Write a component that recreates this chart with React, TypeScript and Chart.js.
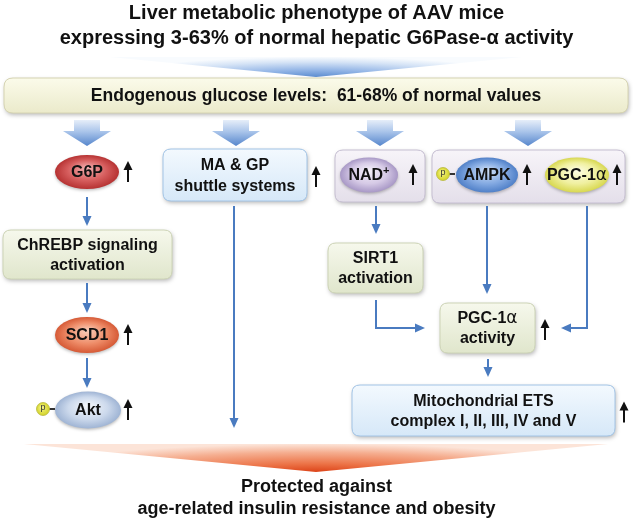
import React, { useEffect, useRef } from "react";
import { Chart, registerables } from "chart.js";

Chart.register(...registerables);

// ---- text content (data) ----
const titleLines = ["Liver metabolic phenotype of AAV mice", "expressing 3-63% of normal hepatic G6Pase-\u03b1 activity"];
const glucoseLabel = "Endogenous glucose levels:  61-68% of normal values";
const bottomLines = ["Protected against", "age-related insulin resistance and obesity"];
const ellipseLabels = ["G6P", "SCD1", "Akt", "NAD", "AMPK", "PGC-1"];
const boxLabels = [
  ["MA & GP", "shuttle systems"],
  ["ChREBP signaling", "activation"],
  ["SIRT1", "activation"],
  ["PGC-1", "activity"],
  ["Mitochondrial ETS", "complex I, II, III, IV and V"],
];
const upRegulated = [true, true, true, true, true, true, true, true, true];

// ---- layout (positions / styles) ----
const W = 633, H = 520;
const FONT = "'Liberation Sans', Arial, sans-serif";
const ELLIPSES = [
  { cx: 87, cy: 172, rx: 32, ry: 17, c: ["#f4b2b2", "#d65e5e", "#b63232"], up: 128, alpha: false },
  { cx: 87, cy: 335, rx: 32, ry: 18, c: ["#fad0bc", "#ee8c68", "#d65a36"], up: 128, alpha: false },
  { cx: 88, cy: 410, rx: 33, ry: 18.5, c: ["#f4f7fb", "#ccd9ec", "#9fb4d4"], up: 128, alpha: false, p: 43 },
  { cx: 369, cy: 175, rx: 29, ry: 17.5, c: ["#f6f1fa", "#d6cae6", "#a898c6"], up: 413, sup: true },
  { cx: 487, cy: 175, rx: 31, ry: 17.5, c: ["#d2e2f8", "#84aae2", "#5080c8"], up: 527, p: 443 },
  { cx: 577, cy: 175, rx: 32, ry: 17.5, c: ["#fdfde6", "#f0f0a0", "#d8d850"], up: 617, alpha: true },
];
const BOXES = [
  { x0: 163, y0: 149, x1: 307, y1: 201, style: "blue", l: [166, 187], up: 316 },
  { x0: 3, y0: 230, x1: 172, y1: 279, style: "green", l: [246, 266] },
  { x0: 328, y0: 243, x1: 423, y1: 293, style: "green", l: [259, 279] },
  { x0: 440, y0: 303, x1: 535, y1: 353, style: "green", l: [319, 339], up: 545, alpha: true },
  { x0: 352, y0: 385, x1: 615, y1: 436, style: "blue", l: [402, 422], up: 624 },
];
const GROUPS = [
  { x0: 335, y0: 150, x1: 425, y1: 202 },
  { x0: 432, y0: 150, x1: 625, y1: 203 },
];
const BIG_ARROWS = [87, 236, 380, 528];
const CONNECTORS = [
  [[87, 197], [87, 226]],
  [[87, 283], [87, 313]],
  [[87, 358], [87, 388]],
  [[234, 206], [234, 428]],
  [[376, 206], [376, 234]],
  [[376, 300], [376, 328], [425, 328]],
  [[487, 206], [487, 294]],
  [[587, 206], [587, 328], [561, 328]],
  [[488, 359], [488, 377]],
];
const BOX_STYLES: Record<string, string[]> = {
  blue: ["#f3f9fe", "#d6e8f8", "#a2c4e6"],
  green: ["#f6f8ec", "#e0e6cc", "#cdd4b6"],
  gray: ["#f7f4f9", "#e4dfea", "#c6bfd2"],
  yellow: ["#fbfbea", "#ebeacb", "#d6d4b2"],
};

function roundRect(ctx: CanvasRenderingContext2D, x0: number, y0: number, x1: number, y1: number, r: number) {
  ctx.beginPath();
  ctx.moveTo(x0 + r, y0);
  ctx.lineTo(x1 - r, y0);
  ctx.quadraticCurveTo(x1, y0, x1, y0 + r);
  ctx.lineTo(x1, y1 - r);
  ctx.quadraticCurveTo(x1, y1, x1 - r, y1);
  ctx.lineTo(x0 + r, y1);
  ctx.quadraticCurveTo(x0, y1, x0, y1 - r);
  ctx.lineTo(x0, y0 + r);
  ctx.quadraticCurveTo(x0, y0, x0 + r, y0);
  ctx.closePath();
}

type Seg = { t: string; f: string; dy?: number };
function rich(ctx: CanvasRenderingContext2D, segs: Seg[], cx: number, cy: number, color = "#111") {
  let total = 0;
  const ws = segs.map((s) => { ctx.font = s.f; const w = ctx.measureText(s.t).width; total += w; return w; });
  let x = cx - total / 2;
  ctx.fillStyle = color;
  ctx.textAlign = "left";
  ctx.textBaseline = "middle";
  segs.forEach((s, i) => { ctx.font = s.f; ctx.fillText(s.t, x, cy + (s.dy || 0)); x += ws[i]; });
}

const diagramPlugin = {
  id: "diagram",
  afterDatasetsDraw(chart: any) {
    const ctx: CanvasRenderingContext2D = chart.ctx;
    const xs = chart.scales.x, ys = chart.scales.y;
    const X = (v: number) => xs.getPixelForValue(v);
    const Y = (v: number) => ys.getPixelForValue(v);
    const B16 = `bold 16px ${FONT}`;
    const ALPHA = `17px 'DejaVu Sans', ${FONT}`;
    ctx.save();

    ctx.fillStyle = "#fff";
    ctx.fillRect(0, 0, W, H);

    titleLines.forEach((t, i) => rich(ctx, [{ t, f: `bold 20px ${FONT}` }], X(316.5), Y(13 + i * 25)));

    const wedge = (tipX: number, tipY: number, topY: number, xL: number, xR: number, stops: [number, string][]) => {
      ctx.save();
      ctx.beginPath();
      ctx.moveTo(X(xL), Y(topY));
      ctx.lineTo(X(xR), Y(topY));
      ctx.lineTo(X(tipX), Y(tipY));
      ctx.closePath();
      ctx.clip();
      ctx.translate(X(tipX), Y(tipY));
      const h = Y(tipY) - Y(topY);
      const half = (X(xR) - X(xL)) / 2;
      ctx.scale(1, h / half);
      const g = ctx.createRadialGradient(0, 0, 0, 0, 0, half);
      stops.forEach(([o, c]) => g.addColorStop(o, c));
      ctx.fillStyle = g;
      ctx.fillRect(-half, -half, 2 * half, half);
      ctx.restore();
    };
    wedge(316, 77, 57, 110, 522, [[0, "#5b8cd0"], [0.35, "#93b5e6"], [0.75, "#d6e4f6"], [1, "#f8fbfe"]]);

    const box = (x0: number, y0: number, x1: number, y1: number, style: string, r = 8) => {
      const [c0, c1, st] = BOX_STYLES[style];
      ctx.save();
      ctx.shadowColor = "rgba(0,0,0,0.28)";
      ctx.shadowBlur = 4;
      ctx.shadowOffsetX = 1;
      ctx.shadowOffsetY = 2;
      roundRect(ctx, X(x0), Y(y0), X(x1), Y(y1), r);
      const g = ctx.createLinearGradient(0, Y(y0), 0, Y(y1));
      g.addColorStop(0, c0);
      g.addColorStop(1, c1);
      ctx.fillStyle = g;
      ctx.fill();
      ctx.restore();
      roundRect(ctx, X(x0), Y(y0), X(x1), Y(y1), r);
      ctx.strokeStyle = st;
      ctx.lineWidth = 1;
      ctx.stroke();
    };

    box(4, 78, 628, 113, "yellow", 9);
    rich(ctx, [{ t: glucoseLabel, f: `bold 17.5px ${FONT}` }], X(316), Y(96));

    BIG_ARROWS.forEach((ax) => {
      ctx.save();
      ctx.beginPath();
      ctx.moveTo(X(ax - 13), Y(120));
      ctx.lineTo(X(ax + 13), Y(120));
      ctx.lineTo(X(ax + 13), Y(131));
      ctx.lineTo(X(ax + 24), Y(131));
      ctx.lineTo(X(ax), Y(146));
      ctx.lineTo(X(ax - 24), Y(131));
      ctx.lineTo(X(ax - 13), Y(131));
      ctx.closePath();
      const g = ctx.createLinearGradient(0, Y(120), 0, Y(146));
      g.addColorStop(0, "#e6eef9");
      g.addColorStop(0.45, "#a9c4ea");
      g.addColorStop(1, "#5686cc");
      ctx.fillStyle = g;
      ctx.fill();
      ctx.restore();
    });

    GROUPS.forEach((g) => box(g.x0, g.y0, g.x1, g.y1, "gray", 8));

    const up = (x: number, cy: number) => {
      ctx.save();
      ctx.strokeStyle = "#111";
      ctx.fillStyle = "#111";
      ctx.lineWidth = 2;
      ctx.beginPath();
      ctx.moveTo(X(x), Y(cy + 10));
      ctx.lineTo(X(x), Y(cy - 3));
      ctx.stroke();
      ctx.beginPath();
      ctx.moveTo(X(x - 4.5), Y(cy - 2));
      ctx.lineTo(X(x + 4.5), Y(cy - 2));
      ctx.lineTo(X(x), Y(cy - 11));
      ctx.closePath();
      ctx.fill();
      ctx.restore();
    };

    const pCircle = (x: number, y: number) => {
      ctx.save();
      ctx.strokeStyle = "#333";
      ctx.lineWidth = 2;
      ctx.beginPath();
      ctx.moveTo(X(x + 5), Y(y));
      ctx.lineTo(X(x + 12), Y(y));
      ctx.stroke();
      const g = ctx.createRadialGradient(X(x - 1.5), Y(y - 2), 0, X(x), Y(y), 7);
      g.addColorStop(0, "#f8f890");
      g.addColorStop(1, "#d0d020");
      ctx.fillStyle = g;
      ctx.beginPath();
      ctx.arc(X(x), Y(y), 6.5, 0, Math.PI * 2);
      ctx.fill();
      ctx.strokeStyle = "#b8b840";
      ctx.lineWidth = 0.8;
      ctx.stroke();
      rich(ctx, [{ t: "p", f: `9px ${FONT}` }], X(x), Y(y - 1), "#333");
      ctx.restore();
    };

    ELLIPSES.forEach((e: any, i) => {
      ctx.save();
      ctx.shadowColor = "rgba(0,0,0,0.25)";
      ctx.shadowBlur = 3;
      ctx.shadowOffsetY = 1.5;
      ctx.translate(X(e.cx), Y(e.cy));
      ctx.scale(1, e.ry / e.rx);
      const g = ctx.createRadialGradient(0, -e.rx * 0.25, 0, 0, 0, e.rx);
      g.addColorStop(0, e.c[0]);
      g.addColorStop(0.6, e.c[1]);
      g.addColorStop(1, e.c[2]);
      ctx.fillStyle = g;
      ctx.beginPath();
      ctx.arc(0, 0, e.rx, 0, Math.PI * 2);
      ctx.fill();
      ctx.restore();
      const segs: Seg[] = [{ t: ellipseLabels[i], f: B16 }];
      if (e.sup) segs.push({ t: "+", f: `bold 11px ${FONT}`, dy: -5 });
      if (e.alpha) segs.push({ t: "\u03b1", f: ALPHA });
      rich(ctx, segs, X(e.cx), Y(e.cy + 1));
      if (e.p) pCircle(e.p, e.cy - 1);
      if (upRegulated[i]) up(e.up, e.cy);
    });

    BOXES.forEach((b, i) => {
      box(b.x0, b.y0, b.x1, b.y1, b.style, 8);
      const cx = (b.x0 + b.x1) / 2;
      boxLabels[i].forEach((t, j) => {
        const segs: Seg[] = [{ t, f: B16 }];
        if ((b as any).alpha && j === 0) segs.push({ t: "\u03b1", f: ALPHA });
        rich(ctx, segs, X(cx), Y(b.l[j]));
      });
      if ((b as any).up) up((b as any).up, (b.y0 + b.y1) / 2 + 2);
    });

    CONNECTORS.forEach((pts) => {
      ctx.save();
      ctx.strokeStyle = "#4a7bc0";
      ctx.fillStyle = "#4a7bc0";
      ctx.lineWidth = 2;
      const n = pts.length;
      const [ex, ey] = pts[n - 1];
      const [px, py] = pts[n - 2];
      const dx = Math.sign(ex - px), dy = Math.sign(ey - py);
      ctx.beginPath();
      ctx.moveTo(X(pts[0][0]), Y(pts[0][1]));
      for (let k = 1; k < n - 1; k++) ctx.lineTo(X(pts[k][0]), Y(pts[k][1]));
      ctx.lineTo(X(ex - dx * 7), Y(ey - dy * 7));
      ctx.stroke();
      ctx.beginPath();
      ctx.moveTo(X(ex), Y(ey));
      ctx.lineTo(X(ex - dx * 10 - dy * 4.5), Y(ey - dy * 10 - dx * 4.5));
      ctx.lineTo(X(ex - dx * 10 + dy * 4.5), Y(ey - dy * 10 + dx * 4.5));
      ctx.closePath();
      ctx.fill();
      ctx.restore();
    });

    wedge(316, 472, 444, 24, 608, [[0, "#dc4318"], [0.3, "#ec7448"], [0.7, "#f5ae90"], [1, "#fce4d8"]]);

    bottomLines.forEach((t, i) => rich(ctx, [{ t, f: `bold 18px ${FONT}` }], X(316.5), Y(487 + i * 22)));

    ctx.restore();
  },
};

export default function App() {
  const ref = useRef<HTMLCanvasElement | null>(null);
  useEffect(() => {
    document.body.style.margin = "0";
    const canvas = ref.current!;
    const points = [...ELLIPSES.map((e) => ({ x: e.cx, y: e.cy })), ...BOXES.map((b) => ({ x: (b.x0 + b.x1) / 2, y: (b.y0 + b.y1) / 2 }))];
    const chart = new Chart(canvas, {
      type: "scatter",
      data: { datasets: [{ data: points, pointRadius: 0, showLine: false }] },
      options: {
        animation: false,
        responsive: false,
        devicePixelRatio: 1,
        layout: { padding: 0 },
        plugins: { legend: { display: false }, tooltip: { enabled: false } },
        scales: {
          x: { type: "linear", min: 0, max: W, display: false },
          y: { type: "linear", min: 0, max: H, reverse: true, display: false },
        },
      },
      plugins: [diagramPlugin],
    });
    return () => chart.destroy();
  }, []);
  return (
    <div style={{ position: "absolute", left: 0, top: 0, width: W, height: H }}>
      <canvas ref={ref} width={W} height={H} style={{ width: W, height: H, display: "block" }} />
    </div>
  );
}
